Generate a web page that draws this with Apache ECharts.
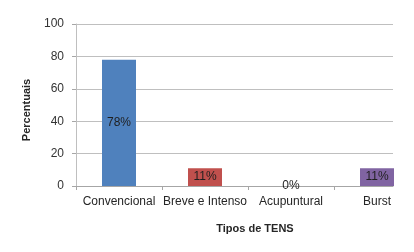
<!DOCTYPE html>
<html>
<head>
<meta charset="utf-8">
<script src="https://cdn.jsdelivr.net/npm/echarts@6/dist/echarts.min.js"></script>
<style>
html,body{margin:0;padding:0;background:#fff;}
#c{width:414px;height:252px;}
</style>
</head>
<body>
<div id="c"></div>
<script>
var categories = ['Convencional', 'Breve e Intenso', 'Acupuntural', 'Burst'];
var values = [78, 11, 0, 11];
var colors = ['#4F81BD', '#C0504D', '#9BBB59', '#8064A2'];
var yTicks = [0, 20, 40, 60, 80, 100];

var font = 'Liberation Sans, Arial, sans-serif';
var chart = echarts.init(document.getElementById('c'), null, {renderer: 'canvas'});
chart.setOption({
  animation: false,
  backgroundColor: '#ffffff',
  grid: [
    {left: 76, width: 344, top: 24, bottom: 66, containLabel: false, outerBoundsMode: 'none'},
    {left: 76, right: 21, top: 24, bottom: 66, containLabel: false, outerBoundsMode: 'none'}
  ],
  xAxis: [
    {
      type: 'category', gridIndex: 0, data: categories,
      axisLine: {show: false},
      axisTick: {show: true, length: 4, lineStyle: {color: '#A6A6A6'}},
      axisLabel: {color: '#262626', fontFamily: font, fontSize: 12, margin: 10, interval: 0},
      name: 'Tipos de TENS', nameLocation: 'middle', nameGap: 37,
      nameTextStyle: {fontFamily: font, fontSize: 11, fontWeight: 'bold', color: '#262626', padding: [0, 0, 0, 14]}
    },
    {
      type: 'category', gridIndex: 1, data: categories,
      axisLine: {show: true, lineStyle: {color: '#A6A6A6', width: 1}},
      axisTick: {show: false}, axisLabel: {show: false}
    }
  ],
  yAxis: [
    {type: 'value', gridIndex: 0, min: yTicks[0], max: yTicks[yTicks.length - 1], interval: 20, show: false},
    {
      type: 'value', gridIndex: 1, min: yTicks[0], max: yTicks[yTicks.length - 1], interval: 20,
      axisLine: {show: true, lineStyle: {color: '#BFBFBF'}},
      axisTick: {show: true, length: 4, lineStyle: {color: '#A6A6A6'}},
      splitLine: {show: true, lineStyle: {color: '#BFBFBF', width: 1}},
      axisLabel: {color: '#333333', fontFamily: font, fontSize: 12, margin: 12},
      name: 'Percentuais', nameLocation: 'middle', nameRotate: 90, nameGap: 44,
      nameTextStyle: {fontFamily: font, fontSize: 11, fontWeight: 'bold', color: '#262626', padding: [0, 0, 0, -10]}
    }
  ],
  series: [{
    type: 'bar', xAxisIndex: 0, yAxisIndex: 0,
    barWidth: 34,
    data: values.map(function (v, i) { return {value: v, itemStyle: {color: colors[i]}}; }),
    label: {
      show: true, position: 'inside',
      formatter: function (p) { return p.value + '%'; },
      color: '#1f1f1f', fontFamily: font, fontSize: 12
    }
  }]
});
</script>
</body>
</html>
